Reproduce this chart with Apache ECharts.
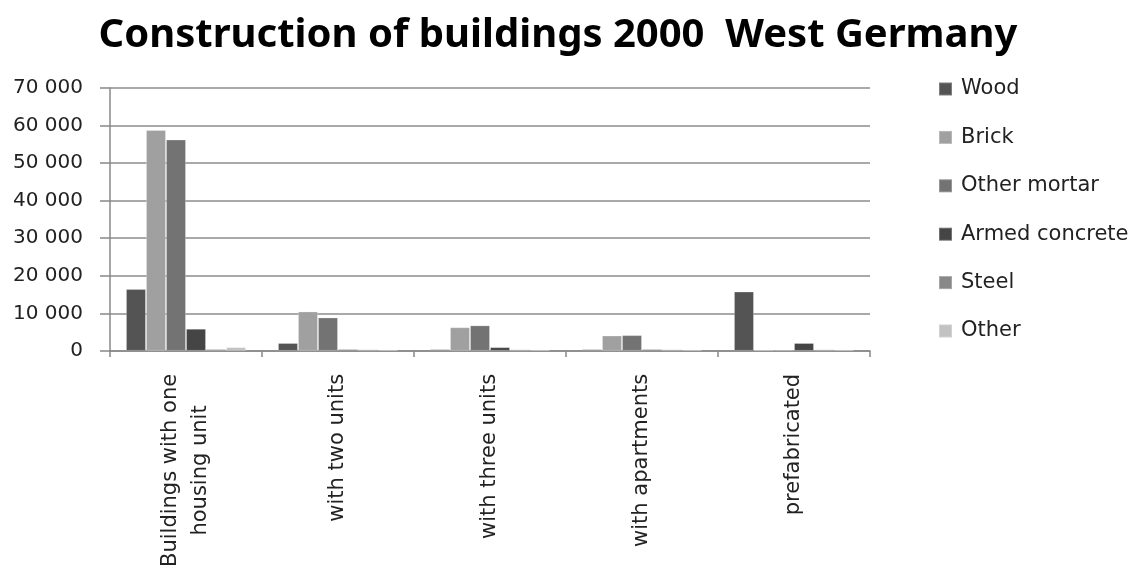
<!DOCTYPE html>
<html><head><meta charset="utf-8">
<script src="https://cdn.jsdelivr.net/npm/echarts@6/dist/echarts.min.js"></script>
<style>html,body{margin:0;padding:0;background:#fff}#c{width:1144px;height:570px}</style>
</head><body><div id="c"></div>
<script>
const categories = ['Buildings with one\nhousing unit', 'with two units', 'with three units', 'with apartments', 'prefabricated'];
const seriesNames = ['Wood', 'Brick', 'Other mortar', 'Armed concrete', 'Steel', 'Other'];
const wood = [16500, 2100, 450, 450, 15800];
const brick = [58800, 10500, 6300, 4100, 200];
const otherMortar = [56300, 8900, 6800, 4200, 300];
const armedConcrete = [5900, 450, 1000, 450, 2100];
const steel = [500, 400, 400, 400, 400];
const other = [1000, 300, 300, 300, 300];
const yTicks = [0, 10000, 20000, 30000, 40000, 50000, 60000, 70000];
const colors = ['#545454', '#a0a0a0', '#737373', '#454545', '#888888', '#c2c2c2'];
const values = [wood, brick, otherMortar, armedConcrete, steel, other];

const chart = echarts.init(document.getElementById('c'));
chart.setOption({
  animation: false,
  title: {
    text: 'Construction of buildings 2000  West Germany',
    left: 553, top: 11, textAlign: 'center',
    textStyle: { fontFamily: 'Noto Sans', fontWeight: 'bold', fontSize: 40, color: '#000' }
  },
  legend: {
    orient: 'vertical', left: 938, top: 78.5, padding: 0, itemGap: 27.4,
    itemWidth: 13, itemHeight: 13, icon: 'rect',
    textStyle: { fontFamily: 'DejaVu Sans', fontSize: 21, lineHeight: 21, color: '#222', padding: [0, 0, 0, 4] },
    data: seriesNames
  },
  grid: { left: 110, right: 274, top: 88, bottom: 218, containLabel: false },
  xAxis: {
    type: 'category', data: categories,
    axisLine: { lineStyle: { color: '#888', width: 1.5 } },
    axisTick: { show: true, length: 6, alignWithLabel: false, lineStyle: { color: '#888', width: 1.5 } },
    axisLabel: {
      rotate: 90, margin: 23, align: 'right', verticalAlign: 'middle',
      fontFamily: 'DejaVu Sans', fontSize: 21, color: '#222', lineHeight: 30,
      formatter: v => v.split('\n').map(s => '{c|' + s + '}').join('\n'),
      rich: { c: { align: 'center', fontFamily: 'DejaVu Sans', fontSize: 21, color: '#222', lineHeight: 30 } }
    }
  },
  yAxis: {
    type: 'value', min: yTicks[0], max: yTicks[yTicks.length - 1], interval: yTicks[1] - yTicks[0],
    axisLine: { show: true, lineStyle: { color: '#888', width: 1.5 } },
    axisTick: { show: true, length: 10, lineStyle: { color: '#888', width: 1.5 } },
    splitLine: { lineStyle: { color: '#8c8c8c', width: 1.5 } },
    axisLabel: {
      margin: 27, fontFamily: 'DejaVu Sans', fontSize: 20, color: '#222',
      formatter: v => v === 0 ? '0' : String(v).replace(/\B(?=(\d{3})+(?!\d))/g, ' ')
    }
  },
  series: seriesNames.map((n, i) => ({
    name: n, type: 'bar', data: values[i],
    barGap: '0%', barCategoryGap: '21%',
    itemStyle: { color: colors[i], borderColor: 'rgba(255,255,255,0.25)', borderWidth: 1 }
  }))
});
</script></body></html>
